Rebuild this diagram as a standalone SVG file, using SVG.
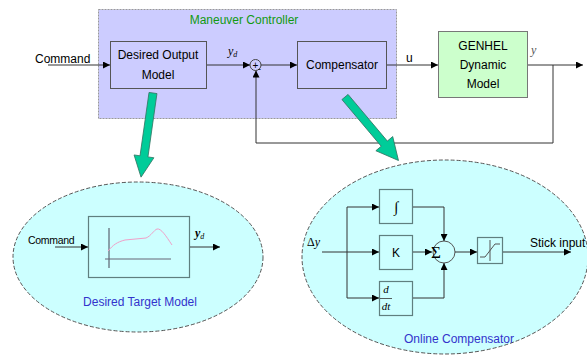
<svg xmlns="http://www.w3.org/2000/svg" width="587" height="356" viewBox="0 0 587 356">
<defs>
<marker id="ah" viewBox="0 0 10 10" refX="10" refY="5" markerWidth="7" markerHeight="7" markerUnits="userSpaceOnUse" orient="auto">
<path d="M0,0 L10,5 L0,10 Z" fill="#000"/>
</marker>
<style>
.t{font-family:"Liberation Sans",Arial,sans-serif;font-size:12px;fill:#000}
.s{font-family:"Liberation Serif","Times New Roman",serif;font-style:italic;fill:#000}
.box{fill:none;stroke:#555;stroke-width:1}
.cyanbox{fill:none;stroke:#5f7f7f;stroke-width:1.2}
.ln{fill:none;stroke:#333;stroke-width:1}
.la{fill:none;stroke:#333;stroke-width:1;marker-end:url(#ah)}
.ell{fill:#ccffff;stroke:#555;stroke-width:1;stroke-dasharray:4 2}
.garr{fill:#00cc99;stroke:#337766;stroke-width:0.8}
.blue{font-family:"Liberation Sans",Arial,sans-serif;font-size:12px;fill:#3333cc}
</style>
</defs>
<rect width="587" height="356" fill="#fff"/>

<g id="maneuver-controller">
<rect x="98.5" y="9.5" width="298" height="109" fill="#ccccff" stroke="#999" stroke-dasharray="2 1"/>
<text class="t" x="244" y="24" text-anchor="middle" fill="#009900" style="fill:#119911">Maneuver Controller</text>
</g>

<g id="ellipse-target">
<ellipse class="ell" cx="138" cy="257" rx="125" ry="75"/>
<text class="blue" x="140" y="306" text-anchor="middle">Desired Target Model</text>
</g>

<g id="ellipse-compensator">
<ellipse class="ell" cx="445" cy="257" rx="143" ry="97"/>
<text class="blue" x="459" y="343" text-anchor="middle">Online Compensator</text>
</g>

<g id="desired-output-model">
<rect class="box" x="110.5" y="41.5" width="96" height="47"/>
<text class="t" x="158" y="59" text-anchor="middle">Desired Output</text>
<text class="t" x="158" y="79" text-anchor="middle">Model</text>
</g>

<g id="sum-top">
<circle cx="255.5" cy="65" r="5.5" fill="none" stroke="#444"/>
<text class="t" x="255.5" y="69" text-anchor="middle" style="font-size:10px">+</text>
<text class="t" x="258" y="72" style="font-size:9px">-</text>
</g>

<g id="compensator">
<rect class="box" x="297.5" y="41.5" width="89" height="47"/>
<text class="t" x="342" y="69" text-anchor="middle">Compensator</text>
</g>

<g id="genhel">
<rect x="438.5" y="31.5" width="89" height="66" fill="#ccffcc" stroke="#777"/>
<text class="t" x="483" y="50" text-anchor="middle">GENHEL</text>
<text class="t" x="483" y="69" text-anchor="middle">Dynamic</text>
<text class="t" x="483" y="88" text-anchor="middle">Model</text>
</g>

<g id="target-model-block">
<rect class="cyanbox" x="88.5" y="216.5" width="101" height="61"/>
<line x1="109" y1="228" x2="109" y2="268" stroke="#445" stroke-width="1"/>
<line x1="105" y1="259" x2="171" y2="259" stroke="#667" stroke-width="1.2"/>
<path d="M108,251 C113,245 117,242 125,240 L146,238 C151,236 154,230 157,229 C161,228 166,236 172,245" fill="none" stroke="#f0a0c8" stroke-width="1"/>
</g>

<g id="integrator">
<rect class="cyanbox" x="379.5" y="189.5" width="33" height="34"/>
<text class="s" x="396" y="212" text-anchor="middle" style="font-style:normal;font-size:15px">∫</text>
</g>

<g id="gain-k">
<rect class="cyanbox" x="379.5" y="235.5" width="33" height="34"/>
<text class="t" x="396" y="257" text-anchor="middle">K</text>
</g>

<g id="derivative">
<rect class="cyanbox" x="379.5" y="281.5" width="33" height="34"/>
<text class="s" x="386" y="293" text-anchor="middle" style="font-size:11px">d</text>
<line x1="380" y1="298.5" x2="392" y2="298.5" stroke="#333" stroke-width="0.8"/>
<text class="s" x="386" y="310" text-anchor="middle" style="font-size:11px">dt</text>
</g>

<g id="sum-bottom">
<circle cx="444" cy="252" r="11" fill="none" stroke="#555"/>
<text class="s" x="431" y="258" style="font-style:normal;font-size:17px">Σ</text>
</g>

<g id="saturation">
<rect class="cyanbox" x="477.5" y="237.5" width="25" height="26"/>
<line x1="490" y1="240" x2="490" y2="261" stroke="#555"/>
<path d="M480,257 L485,257 L495,244 L500,244" fill="none" stroke="#555"/>
</g>

<g id="labels">
<text class="t" x="35" y="63">Command</text>
<text class="s" x="228" y="55" style="font-size:12px">y<tspan style="font-size:8px" dy="2">d</tspan></text>
<text class="t" x="406" y="62">u</text>
<text class="s" x="531" y="54" style="font-size:12px;fill:#555">y</text>
<text class="t" x="28" y="244" style="font-size:10.5px;letter-spacing:-0.3px">Command</text>
<text class="s" x="195" y="237" style="font-size:12px;font-weight:bold">y<tspan style="font-size:8px;font-weight:normal" dy="2">d</tspan></text>
<text class="s" x="307" y="246" style="font-size:12px;font-style:normal">Δ<tspan style="font-style:italic">y</tspan></text>
<text class="t" x="530" y="247">Stick input</text>
</g>

<g id="connectors">
<line class="la" x1="48" y1="65" x2="110" y2="65"/>
<line class="la" x1="207" y1="65" x2="250" y2="65"/>
<line class="la" x1="261" y1="65" x2="297" y2="65"/>
<line class="la" x1="387" y1="65" x2="438" y2="65"/>
<line class="la" x1="528" y1="65" x2="583" y2="65"/>
<polyline class="la" points="553,65 553,143 256,143 256,70.5"/>
<line class="la" x1="55" y1="247" x2="88" y2="247"/>
<line class="la" x1="190" y1="247" x2="220" y2="247"/>
<line class="ln" x1="322" y1="252" x2="347" y2="252"/>
<line class="la" x1="347" y1="252" x2="379" y2="252"/>
<polyline class="la" points="347,252 347,207 379,207"/>
<polyline class="la" points="347,252 347,298 379,298"/>
<polyline class="la" points="413,207 444,207 444,241"/>
<line class="la" x1="413" y1="252" x2="432" y2="252"/>
<polyline class="la" points="413,298 444,298 444,263"/>
<line class="la" x1="455" y1="252" x2="477" y2="252"/>
<line class="la" x1="503" y1="252" x2="571" y2="252"/>
<polygon class="garr" transform="translate(153,93) rotate(8.1)" points="-4,0 4,0 4,64 10,64 0,85 -10,64 -4,64"/>
<polygon class="garr" transform="translate(345,97) rotate(-40.1)" points="-4,0 4,0 4,61 11,61 0,83 -11,61 -4,61"/>
</g>
</svg>
